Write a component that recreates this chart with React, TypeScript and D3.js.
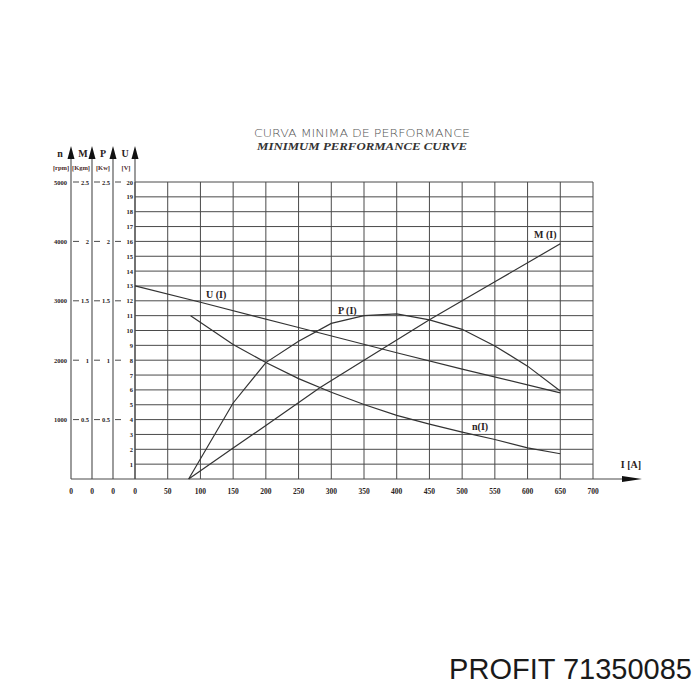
import React from "react";
import * as d3 from "d3";

const currentTicks = [0, 50, 100, 150, 200, 250, 300, 350, 400, 450, 500, 550, 600, 650, 700];
const voltTicks = [1, 2, 3, 4, 5, 6, 7, 8, 9, 10, 11, 12, 13, 14, 15, 16, 17, 18, 19, 20];
const rpmTicks = [1000, 2000, 3000, 4000, 5000];
const kgmTicks = [0.5, 1, 1.5, 2, 2.5];
const kwTicks = [0.5, 1, 1.5, 2, 2.5];

// U(I) in V
const uCurrent = [0, 100, 250, 400, 500, 650];
const uValues = [13.0, 11.9, 10.2, 8.5, 7.4, 5.8];
// n(I) in rpm
const nCurrent = [85, 150, 200, 250, 300, 350, 400, 450, 500, 550, 600, 650];
const nValues = [2750, 2265, 1960, 1690, 1460, 1255, 1070, 925, 790, 665, 525, 425];
// P(I) in Kw
const pCurrent = [82, 150, 200, 250, 300, 350, 400, 450, 500, 550, 600, 650];
const pValues = [0, 0.64, 0.98, 1.16, 1.31, 1.375, 1.39, 1.34, 1.26, 1.12, 0.95, 0.74];
// M(I) in Kgm
const mCurrent = [82, 150, 200, 283, 350, 450, 550, 650];
const mValues = [0, 0.26, 0.45, 0.77, 1.0, 1.34, 1.66, 1.98];

export default function App() {
  const x = d3.scaleLinear().domain([0, 700]).range([135, 593]);
  const yU = d3.scaleLinear().domain([0, 20]).range([479, 182]);
  const yN = d3.scaleLinear().domain([0, 5000]).range([479, 182]);
  const yM = d3.scaleLinear().domain([0, 2.5]).range([479, 182]);
  const yP = d3.scaleLinear().domain([0, 2.5]).range([479, 182]);

  const axN = 71, axM = 92, axP = 113, axU = 135;
  const base = yU(0);
  const top = yU(20);

  const mk = (xs: number[], ys: number[], ys2: d3.ScaleLinear<number, number>) =>
    d3.line<number>().x((_, i) => x(xs[i])).y((_, i) => ys2(ys[i])).curve(d3.curveLinear)(ys) || "";

  const grid = "#4a4a4a";
  const ink = "#2a2222";
  const serif = "'Liberation Serif', 'DejaVu Serif', serif";

  const arrow = (ax: number) => `M${ax - 3.5},${159} L${ax},${146} L${ax + 3.5},${159} Z`;

  return (
    <div style={{ position: "absolute", left: 0, top: 0 }}>
      <svg width={700} height={700} style={{ display: "block", background: "#fff" }}>
        {/* title */}
        <text x={362} y={137} textAnchor="middle" fontFamily="'DejaVu Sans', sans-serif" fontSize={10.5}
          fill="#555" textLength={216} lengthAdjust="spacingAndGlyphs" fontWeight={300}>
          CURVA MINIMA DE PERFORMANCE
        </text>
        <text x={362} y={150} textAnchor="middle" fontFamily={serif} fontSize={10.5} fontStyle="italic"
          fontWeight="bold" fill="#333" textLength={210} lengthAdjust="spacingAndGlyphs">
          MINIMUM PERFORMANCE CURVE
        </text>

        {/* grid */}
        {currentTicks.map((t) => (
          <line key={"v" + t} x1={x(t)} x2={x(t)} y1={top} y2={base} stroke={grid} strokeWidth={1} />
        ))}
        {voltTicks.map((t) => (
          <line key={"h" + t} x1={axU} x2={x(700)} y1={yU(t)} y2={yU(t)} stroke={grid} strokeWidth={1} />
        ))}

        {/* left axes */}
        {[axN, axM, axP, axU].map((ax) => (
          <g key={"ax" + ax}>
            <line x1={ax} x2={ax} y1={150} y2={base} stroke={grid} strokeWidth={1.1} />
            <path d={arrow(ax)} fill="#111" />
          </g>
        ))}
        {/* baseline with arrow */}
        <line x1={axN} x2={628} y1={base} y2={base} stroke={grid} strokeWidth={1.1} />
        <path d={`M${622},${base - 3} L${642},${base} L${622},${base + 3} Z`} fill="#111" />
        <text x={631} y={468} textAnchor="middle" fontFamily={serif} fontSize={10} fontWeight="bold" fill={ink}>
          I  [A]
        </text>

        {/* axis headers */}
        {[
          { l: "n", u: "[rpm]", x: 60, ux: 61 },
          { l: "M", u: "[Kgm]", x: 83, ux: 81 },
          { l: "P", u: "[Kw]", x: 103, ux: 103 },
          { l: "U", u: "[V]", x: 125, ux: 126 },
        ].map((h) => (
          <g key={h.l}>
            <text x={h.x} y={157} textAnchor="middle" fontFamily={serif} fontSize={10} fontWeight="bold" fill={ink}>
              {h.l}
            </text>
            <text x={h.ux} y={170} textAnchor="middle" fontFamily={serif} fontSize={6.5} fontWeight="bold" fill="#4a2a2a">
              {h.u}
            </text>
          </g>
        ))}

        {/* tick labels */}
        {voltTicks.map((t) => (
          <text key={"ut" + t} x={133} y={yU(t) + 2.5} textAnchor="end" fontFamily={serif} fontSize={6.5}
            fontWeight="bold" fill={ink}>
            {t}
          </text>
        ))}
        {rpmTicks.map((t) => (
          <g key={"nt" + t}>
            <text x={67} y={yN(t) + 2.5} textAnchor="end" fontFamily={serif} fontSize={6.5} fontWeight="bold" fill={ink}>
              {t}
            </text>
            <line x1={axN + 2} x2={axN + 8} y1={yN(t)} y2={yN(t)} stroke={grid} strokeWidth={1} />
          </g>
        ))}
        {kgmTicks.map((t) => (
          <g key={"mt" + t}>
            <text x={89} y={yM(t) + 2.5} textAnchor="end" fontFamily={serif} fontSize={6.5} fontWeight="bold" fill={ink}>
              {t}
            </text>
            <line x1={axM + 2} x2={axM + 8} y1={yM(t)} y2={yM(t)} stroke={grid} strokeWidth={1} />
          </g>
        ))}
        {kwTicks.map((t) => (
          <g key={"pt" + t}>
            <text x={110} y={yP(t) + 2.5} textAnchor="end" fontFamily={serif} fontSize={6.5} fontWeight="bold" fill={ink}>
              {t}
            </text>
            <line x1={axP + 2} x2={axP + 8} y1={yP(t)} y2={yP(t)} stroke={grid} strokeWidth={1} />
          </g>
        ))}

        {/* bottom labels */}
        {[axN, axM, axP].map((ax) => (
          <text key={"z" + ax} x={ax} y={494} textAnchor="middle" fontFamily={serif} fontSize={7.5} fontWeight="bold" fill={ink}>
            0
          </text>
        ))}
        {currentTicks.map((t) => (
          <text key={"xt" + t} x={x(t)} y={494} textAnchor="middle" fontFamily={serif} fontSize={7.5} fontWeight="bold" fill={ink}>
            {t}
          </text>
        ))}

        {/* curves */}
        <path d={mk(uCurrent, uValues, yU)} fill="none" stroke="#333" strokeWidth={1.2} />
        <path d={mk(nCurrent, nValues, yN)} fill="none" stroke="#333" strokeWidth={1.2} />
        <path d={mk(pCurrent, pValues, yP)} fill="none" stroke="#333" strokeWidth={1.2} />
        <path d={mk(mCurrent, mValues, yM)} fill="none" stroke="#333" strokeWidth={1.2} />

        {/* curve labels */}
        <text x={206} y={298} fontFamily={serif} fontSize={10} fontWeight="bold" fill={ink}>U (I)</text>
        <text x={338} y={314} fontFamily={serif} fontSize={10} fontWeight="bold" fill={ink}>P (I)</text>
        <text x={534} y={238} fontFamily={serif} fontSize={10} fontWeight="bold" fill={ink}>M (I)</text>
        <text x={472} y={430} fontFamily={serif} fontSize={10} fontWeight="bold" fill={ink}>n(I)</text>

        {/* brand */}
        <text x={692} y={679} textAnchor="end" fontFamily="'Liberation Sans', Arial, sans-serif" fontSize={29} fill="#1a1a1a">
          PROFIT 71350085
        </text>
      </svg>
    </div>
  );
}
